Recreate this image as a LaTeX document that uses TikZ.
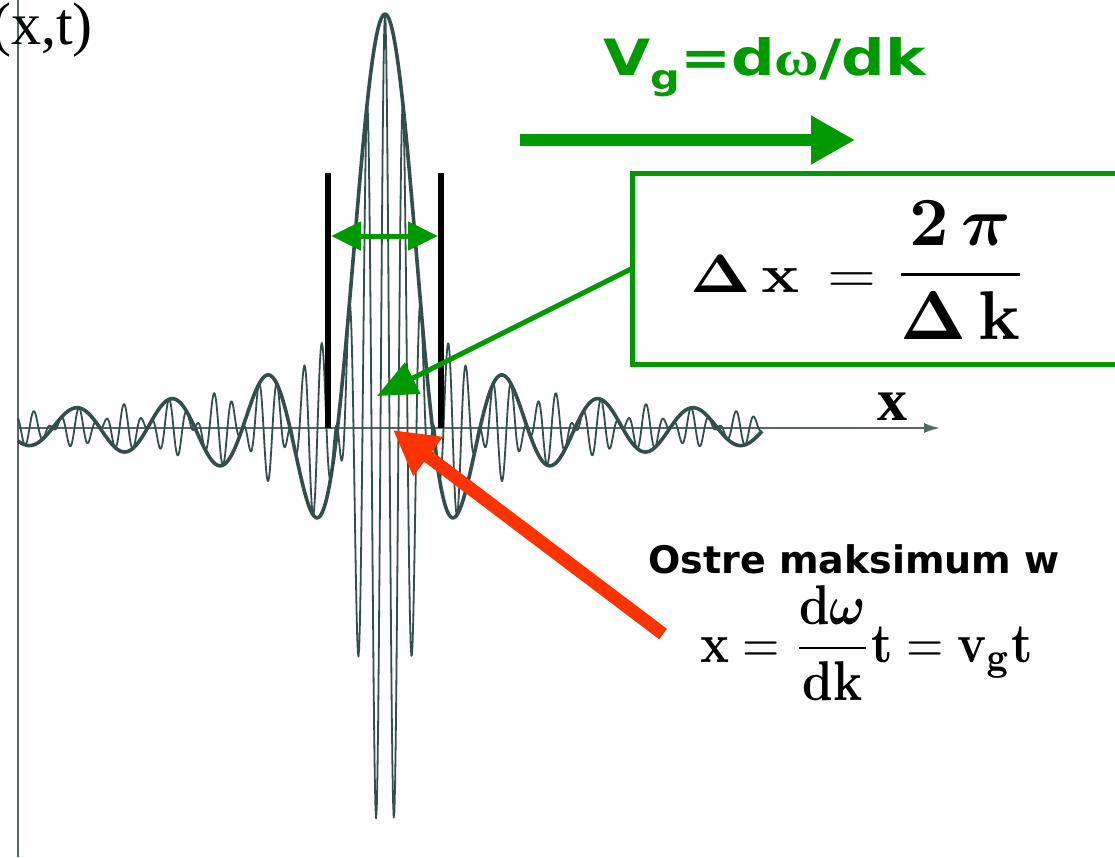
\documentclass[tikz,border=0pt]{standalone}
\usepackage[no-math]{fontspec}
\usepackage{amsmath,bm}
\usetikzlibrary{arrows.meta,positioning,calc}
\newfontfamily\sansbold{DejaVu Sans}
\newfontfamily\timesfont{Liberation Serif}
\definecolor{vggreen}{RGB}{0,153,0}
\definecolor{peakred}{RGB}{255,51,0}
\definecolor{wavegray}{RGB}{52,78,75}
\tikzstyle{axis} = [draw=wavegray!85, line width=2pt]
\tikzstyle{envelope} = [draw=wavegray, line width=3.6pt, line join=round]
\tikzstyle{carrier} = [draw=wavegray, line width=1.8pt, line join=round]
\tikzstyle{bar} = [draw=black, line width=5.5pt]
\tikzstyle{widtharrow} = [draw=vggreen, line width=5pt, {Triangle[length=30pt,width=28pt]}-{Triangle[length=30pt,width=28pt]}]
\tikzstyle{pointer} = [draw=vggreen, line width=5pt, -{Triangle[length=40pt,width=34pt]}]
\tikzstyle{velocity} = [draw=vggreen, line width=12pt, -{Triangle[length=44pt,width=46pt]}]
\tikzstyle{redpointer} = [draw=peakred, line width=13pt, -{Triangle[length=44pt,width=46pt]}]
\tikzstyle{formulabox} = [rectangle, draw=vggreen, line width=5pt, fill=white, outer sep=0pt, inner sep=0pt, minimum width=486pt, minimum height=191pt]
\begin{document}
\begin{tikzpicture}[x=1pt, y=-1pt,
    declare function={sinc(\t)=sin((\t-385)*3.7895)/((\t-385)*0.066139);}]
    \path[use as bounding box, fill=white] (0,0) rectangle (1115,857);

    \coordinate (ybottom) at (18,857);
    \coordinate (ytop) at (18,-4);
    \coordinate (origin) at (18,428);
    \coordinate (xend) at (940,428);
    \draw[axis] (ybottom) -- (ytop);
    \draw[axis, -{Latex[length=16pt,width=10pt]}] (origin) -- (xend);
    \node[anchor=base west, inner sep=0pt, font=\timesfont\fontsize{60}{60}\selectfont] at (-9,44) (psi) {(x,t)};
    \node[anchor=base, inner sep=0pt, font=\timesfont\bfseries\fontsize{60}{60}\selectfont] at (892,420) (xlabel) {x};

    \draw[carrier] plot[domain=18:762, samples=1100] (\x, {428-414*sinc(\x)*cos((\x-385)*20)});
    \draw[envelope] plot[domain=18:762, samples=400] (\x, {428-414*sinc(\x)});

    \coordinate (lefttop) at (328,173);
    \coordinate (leftfoot) at (328,428);
    \coordinate (righttop) at (441,173);
    \coordinate (rightfoot) at (441,428);
    \draw[bar] (lefttop) -- (leftfoot);
    \draw[bar] (righttop) -- (rightfoot);
    \coordinate (leftmid) at (331,236);
    \coordinate (rightmid) at (438,236);
    \draw[widtharrow] (leftmid) -- (rightmid);

    \node[anchor=base west, inner sep=0pt, text=vggreen] at (603,75) (vg) {\scalebox{1.22}[1]{\sansbold\bfseries\fontsize{50}{50}\selectfont V\raisebox{-14pt}{\fontsize{34}{34}\selectfont g}={}d{\timesfont\bfseries ω}/dk}};
    \coordinate (vgstart) at (520,140);
    \coordinate (vgend) at (855,140);
    \draw[velocity] (vgstart) -- (vgend);

    \node[formulabox, anchor=north west] at (632,173) (box) {};
    \node[anchor=base west, inner sep=0pt] at (690,292) (dx) {\scalebox{6.3}[5.4]{$\mathbf{\Delta\,x}\,=$}\hspace{16pt}\scalebox{6.9}{$\dfrac{\mathbf{2}\,\boldsymbol{\pi}}{\mathbf{\Delta\,k}}$}};
    \coordinate (centre) at (377,396);
    \draw[pointer] (box.west) -- (centre);

    \node[anchor=base west, inner sep=0pt, font=\sansbold\bfseries\fontsize{38}{38}\selectfont] at (648,573) (ostre) {Ostre maksimum w};
    \node[anchor=base west, inner sep=0pt] at (700,662) (xt) {\scalebox{4.8}[5.6]{$\mathbf{x}=\dfrac{\mathbf{d}\boldsymbol{\omega}}{\mathbf{dk}}\mathbf{t}=\mathbf{v}_{\mathbf{g}}\mathbf{t}$}};
    \coordinate (redtail) at (663,634);
    \coordinate (peak) at (393,430);
    \draw[redpointer] (redtail) -- (peak);
\end{tikzpicture}
\end{document}
